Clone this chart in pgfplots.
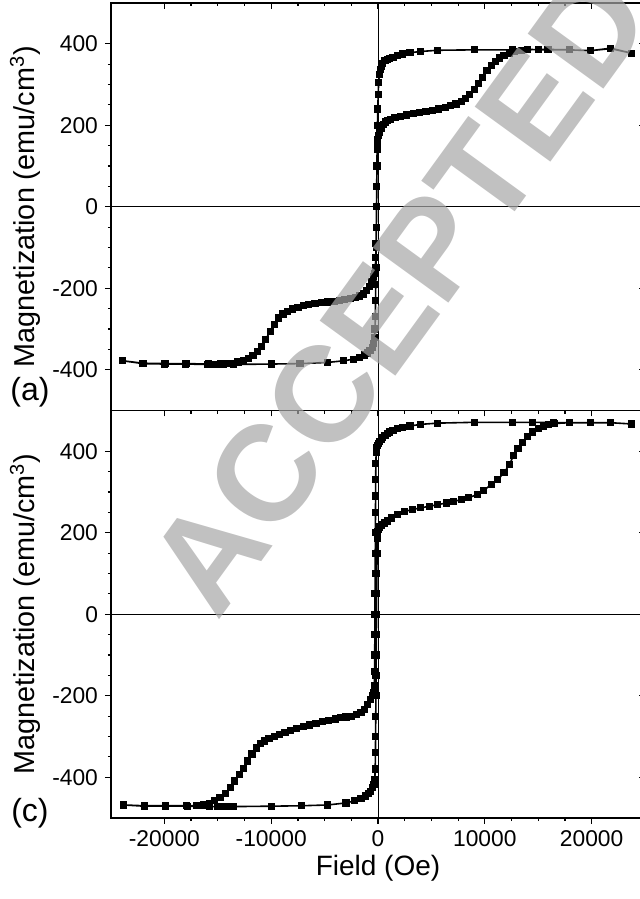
\documentclass[border=0pt]{standalone}
\usepackage{fontspec}
\setmainfont{Liberation Sans}
\usepackage{pgfplots}
\pgfplotsset{compat=1.18}

\pgfplotstableread{
H M
23700 377
21800 389
19900 383
17900 385
15900 385
14000 386
12600 385
9000 385
5600 384
4000 381
3000 378
2300 375
1800 371
1400 367
1100 364
880 362
650 358
450 352
300 345
200 337
120 325
60 305
20 275
-20 240
-50 200
-80 150
-100 100
-120 50
-140 0
-160 -50
-180 -90
-210 -125
-250 -150
-330 -163
-450 -172
-600 -183
-800 -195
-1050 -206
-1350 -214
-1700 -219
-2100 -223
-2600 -226
-3100 -228
-3600 -230
-4100 -232
-4700 -234
-5300 -235
-5900 -237
-6500 -240
-7000 -243
-7500 -247
-8000 -251
-8500 -257
-8900 -263
-9300 -273
-9700 -288
-10100 -306
-10500 -325
-10900 -342
-11300 -356
-11700 -365
-12100 -372
-12600 -377
-13100 -381
-13600 -384
-14100 -385
-14700 -386
-15300 -387
-15900 -386
-17900 -385
-19900 -385
-22000 -384
-23900 -378
-22000 -385
-20000 -386
-18000 -386
-16000 -387
-14500 -387
-13500 -387
-10000 -386
-7300 -385
-4700 -382
-3200 -378
-2300 -374
-1700 -369
-1300 -364
-1000 -359
-750 -353
-550 -345
-420 -335
-330 -320
-280 -300
-250 -270
-230 -230
-210 -190
-190 -150
-170 -100
-150 -50
-130 0
-110 50
-90 100
-60 140
-20 165
50 175
150 182
300 192
500 202
700 208
900 212
1200 215
1600 219
2100 222
2700 225
3300 228
3900 231
4500 234
5100 237
5700 240
6300 244
6800 248
7300 252
7800 258
8200 265
8600 275
9000 288
9400 302
9800 318
10200 334
10600 347
11000 357
11400 365
11800 371
12300 377
12800 381
13400 384
14000 385
15000 386
16000 386
17900 385
19900 383
21800 388
23700 377
}\tablea

\pgfplotstableread{
H M
23700 467
21800 470
19900 470
17900 470
16400 470
14500 471
12600 471
9000 471
5600 469
4000 466
3000 462
2300 458
1800 455
1400 451
1100 447
880 443
650 438
450 433
300 428
150 423
50 419
-50 414
-120 408
-170 398
-200 370
-215 330
-225 290
-235 250
-245 200
-255 150
-265 100
-275 50
-285 0
-295 -50
-305 -100
-315 -140
-330 -175
-380 -192
-500 -200
-700 -210
-1000 -221
-1300 -233
-1600 -241
-2000 -246
-2500 -250
-3000 -252
-3500 -254
-4000 -257
-4600 -261
-5200 -264
-5800 -268
-6400 -272
-7000 -276
-7600 -280
-8200 -285
-8700 -290
-9200 -295
-9700 -300
-10200 -305
-10600 -311
-11000 -318
-11400 -328
-11800 -343
-12200 -360
-12600 -378
-13000 -394
-13400 -409
-13800 -426
-14300 -440
-14800 -450
-15300 -458
-15800 -464
-16300 -468
-17000 -470
-17900 -470
-19900 -470
-21900 -470
-23800 -468
-21900 -471
-19900 -471
-17800 -471
-15800 -472
-15000 -472
-14500 -472
-14000 -472
-13500 -472
-10000 -471
-7200 -470
-4700 -468
-3000 -463
-2200 -458
-1600 -452
-1200 -446
-900 -440
-700 -434
-500 -426
-380 -418
-300 -405
-260 -380
-240 -340
-225 -300
-210 -250
-195 -200
-180 -150
-165 -100
-150 -50
-135 0
-120 50
-105 100
-90 150
-70 185
-30 202
50 208
170 214
350 219
600 224
880 229
1300 236
1800 245
2500 252
3200 257
4000 261
4800 265
5600 269
6400 273
7100 277
7800 281
8500 286
9300 294
9900 304
10600 318
11200 330
11800 347
12300 367
12700 390
13100 407
13500 422
14000 436
14500 447
15000 455
15500 461
16000 465
16500 468
17900 470
19900 470
21800 470
23700 467
}\tablec

\pgfplotsset{
  panel/.style={
    width=267pt, height=203.75pt, scale only axis,
    xmin=-25000, xmax=25000, ymin=-500, ymax=500,
    xtick={-20000,-10000,...,20000}, minor x tick num=3,
    ytick={-400,-200,...,400}, minor y tick num=3,
    axis line style={line width=0.7pt},
    major tick length=3pt, minor tick length=1.6pt,
    every tick/.append style={black, line width=0.6pt},
    tick label style={font=\fontsize{11.4}{13}\selectfont},
    scaled x ticks=false, scaled y ticks=false,
    /pgf/number format/1000 sep={},
    /pgf/number format/assume math mode=true,
  },
  outer/.style={panel, tick align=outside, xtick pos=left, ytick pos=left},
  inner/.style={panel, tick align=inside, xtick pos=right, ytick pos=right,
    xticklabels={}, yticklabels={}},
  loopstyle/.style={black, line width=0.8pt, mark=square*, mark size=1.4pt,
    mark options={solid, fill=black}},
  zeroline/.style={black, line width=0.5pt, forget plot},
  ylab/.style={ylabel style={at={(axis description cs:-0.161,0.5)}, anchor=center,
    font=\fontsize{14.4}{16}\selectfont}},
}

\begin{document}
\begin{tikzpicture}

% bottom panel (c)
\begin{axis}[outer, name=bot, at={(0pt,0pt)}, anchor=south west, ylab,
  ylabel={Magnetization (emu/cm\textsuperscript{3})},
  xlabel={Field (Oe)},
  xlabel style={at={(axis description cs:0.5,-0.1227)}, anchor=center,
    font=\fontsize{14}{16}\selectfont}]
\addplot[zeroline] coordinates {(-25000,0) (25000,0)};
\addplot[zeroline] coordinates {(0,-500) (0,500)};
\addplot[loopstyle] table[x=H, y=M] {\tablec};
\end{axis}
\begin{axis}[inner, at={(0pt,0pt)}, anchor=south west]
\end{axis}

% top panel (a)
\begin{axis}[outer, name=top, at={(0pt,203.75pt)}, anchor=south west, ylab,
  ylabel={Magnetization (emu/cm\textsuperscript{3})},
  xticklabels={}]
\addplot[zeroline] coordinates {(-25000,0) (25000,0)};
\addplot[zeroline] coordinates {(0,-500) (0,500)};
\addplot[loopstyle] table[x=H, y=M] {\tablea};
\end{axis}
\begin{axis}[inner, at={(0pt,203.75pt)}, anchor=south west]
\end{axis}

\node[font=\fontsize{16}{18}\selectfont, xshift=-40.5pt, yshift=9pt] at (top.south west) {(a)};
\node[font=\fontsize{16}{18}\selectfont, xshift=-40.5pt, yshift=2.5pt] at (bot.south west) {(c)};

% watermark
\node[rotate=54, text=black!35, opacity=0.7, font=\fontsize{68}{68}\selectfont\bfseries]
  at (144pt,263pt) {ACCEPTED};

\pgfresetboundingbox
\useasboundingbox (-55.5pt,-40.5pt) rectangle (264pt,409pt);
\end{tikzpicture}
\end{document}
